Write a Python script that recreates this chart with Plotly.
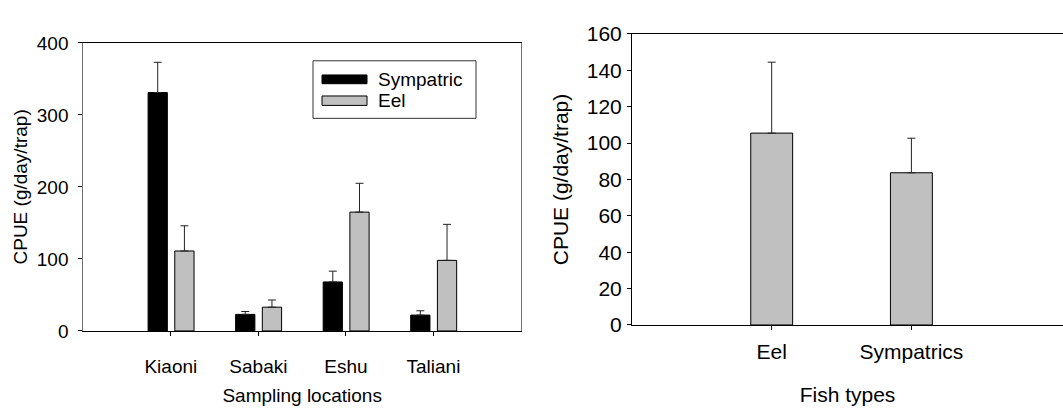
import plotly.graph_objects as go

# Left panel data
locations = ["Kiaoni", "Sabaki", "Eshu", "Taliani"]
sympatric = [331, 23, 68, 22]
sympatric_err = [42, 4, 15, 6]
eel = [111, 33, 165, 98]
eel_err = [35, 10, 40, 50]

# Right panel data
fish_types = ["Eel", "Sympatrics"]
fish_cpue = [105.5, 83.7]
fish_err = [39, 19]

W, H = 1063, 408
FONT = "Arial, Liberation Sans, sans-serif"
GREY = "#c0c0c0"

fig = go.Figure()

fig.add_trace(go.Bar(
    x=locations, y=sympatric, name="Sympatric",
    marker=dict(color="black", line=dict(color="black", width=1)),
    width=0.22, offset=-0.26,
    error_y=dict(type="data", array=sympatric_err, arrayminus=[0]*4, symmetric=False,
                 color="#222", thickness=1, width=4),
    xaxis="x", yaxis="y", showlegend=False))
fig.add_trace(go.Bar(
    x=locations, y=eel, name="Eel",
    marker=dict(color=GREY, line=dict(color="black", width=1)),
    width=0.22, offset=0.045,
    error_y=dict(type="data", array=eel_err, arrayminus=[0]*4, symmetric=False,
                 color="#222", thickness=1, width=4),
    xaxis="x", yaxis="y", showlegend=False))

fig.add_trace(go.Bar(
    x=fish_types, y=fish_cpue, name="CPUE",
    marker=dict(color=GREY, line=dict(color="black", width=1)),
    width=0.3,
    error_y=dict(type="data", array=fish_err, arrayminus=[0]*2, symmetric=False,
                 color="#222", thickness=1, width=4),
    xaxis="x2", yaxis="y2", showlegend=False))

def px(x):
    return x / W

def py(y):
    return 1 - y / H

axis_common = dict(showgrid=False, zeroline=False, ticks="outside", ticklen=4,
                   tickcolor="black", showline=True)

fig.update_layout(
    width=W, height=H, margin=dict(l=0, r=0, t=0, b=0),
    paper_bgcolor="white", plot_bgcolor="white",
    barmode="overlay", showlegend=False,
    font=dict(family=FONT, color="black"),
    xaxis=dict(domain=[px(83.3), px(521)], range=[-1, 4], anchor="y",
               linecolor="black", mirror=True,
               tickfont=dict(size=19), ticklabelstandoff=14,
               title=dict(text="Sampling locations", font=dict(size=19), standoff=12),
               **axis_common),
    yaxis=dict(domain=[py(338), py(32.7)], range=[0, 400], anchor="x",
               linecolor="#707070", mirror=True, tickvals=[0, 100, 200, 300, 400],
               tickfont=dict(size=19), ticklabelstandoff=6,
               title=dict(text="CPUE (g/day/trap)", font=dict(size=19), standoff=4),
               **axis_common),
    xaxis2=dict(domain=[px(632), 1.0], range=[-1, -1 + 431 / 139.7], anchor="y2",
                linecolor="black", mirror=True,
                tickfont=dict(size=21), ticklabelstandoff=4,
                title=dict(text="Fish types", font=dict(size=21), standoff=25),
                **axis_common),
    yaxis2=dict(domain=[py(331.7), py(23.3)], range=[0, 160], anchor="x2",
                linecolor="black", tickvals=[0, 20, 40, 60, 80, 100, 120, 140, 160],
                tickfont=dict(size=21), ticklabelstandoff=1,
                title=dict(text="CPUE (g/day/trap)", font=dict(size=21), standoff=12),
                **axis_common),
)

# Manual legend for the left panel
shapes = [
    dict(type="rect", xref="paper", yref="paper",
         x0=px(313), x1=px(476), y0=py(112.7), y1=py(51.7),
         line=dict(color="#333", width=1), fillcolor="white"),
    dict(type="rect", xref="paper", yref="paper",
         x0=px(322), x1=px(367), y0=py(76), y1=py(66.7),
         line=dict(color="black", width=1), fillcolor="black"),
    dict(type="rect", xref="paper", yref="paper",
         x0=px(322), x1=px(367), y0=py(99), y1=py(89),
         line=dict(color="black", width=1), fillcolor=GREY),
]
fig.update_layout(shapes=shapes)
fig.add_annotation(x=px(376), y=py(72), xref="paper", yref="paper", text="Sympatric",
                   showarrow=False, xanchor="left", yanchor="middle", font=dict(size=19))
fig.add_annotation(x=px(376), y=py(94), xref="paper", yref="paper", text="Eel",
                   showarrow=False, xanchor="left", yanchor="middle", font=dict(size=19))

fig.write_html(
    "out.html",
    config={"displayModeBar": False},
    post_script="document.body.style.margin='0';document.body.style.overflow='hidden';",
)
